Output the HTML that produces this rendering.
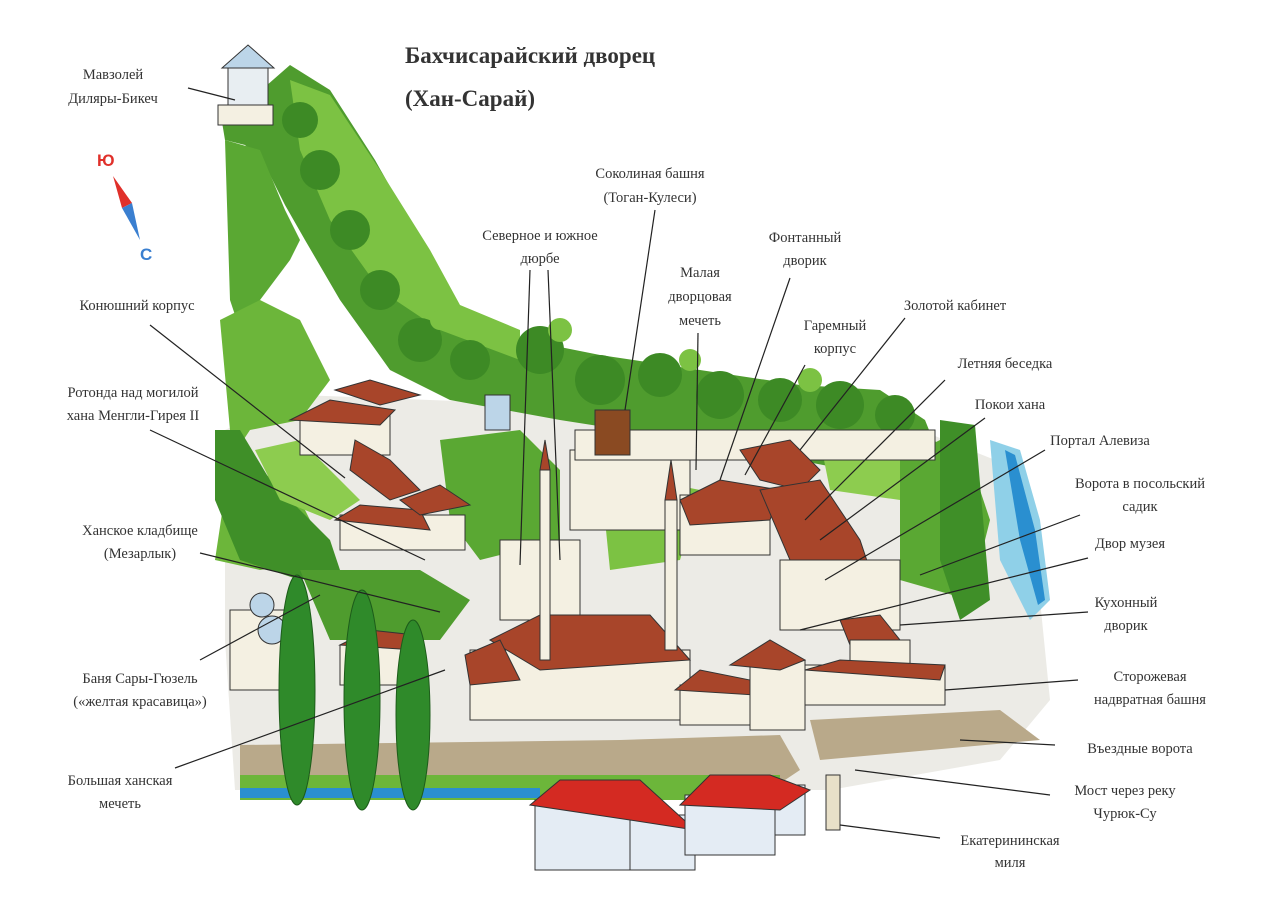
<!DOCTYPE html>
<html><head><meta charset="utf-8"><style>
html,body{margin:0;padding:0;background:#fff}
svg{display:block}
text{font-family:"Liberation Serif",serif;fill:#333}
</style></head><body>
<svg width="1272" height="904" viewBox="0 0 1272 904" xmlns="http://www.w3.org/2000/svg">
<rect width="1272" height="904" fill="#fff"/>
<!-- ground -->
<polygon points="225,430 300,395 560,405 920,430 1020,470 1040,600 1050,700 1000,760 830,790 720,790 235,790 225,640" fill="#ecebe6"/>
<!-- hill green -->
<polygon points="220,110 250,100 290,65 330,90 375,160 420,240 445,300 500,335 600,355 700,370 800,385 880,390 925,420 945,470 900,480 720,445 560,420 450,400 390,370 340,300 305,240 285,205 265,165 245,145 225,140" fill="#4f9c2e"/>
<polygon points="290,80 330,95 380,170 430,250 460,305 520,330 520,360 440,330 380,290 330,220 300,150" fill="#7cc243"/>
<g fill="#3d8a25">
<circle cx="420" cy="340" r="22"/><circle cx="470" cy="360" r="20"/><circle cx="540" cy="350" r="24"/><circle cx="600" cy="380" r="25"/><circle cx="660" cy="375" r="22"/><circle cx="720" cy="395" r="24"/><circle cx="780" cy="400" r="22"/><circle cx="840" cy="405" r="24"/><circle cx="895" cy="415" r="20"/>
<circle cx="300" cy="120" r="18"/><circle cx="320" cy="170" r="20"/><circle cx="350" cy="230" r="20"/><circle cx="380" cy="290" r="20"/>
</g>
<g fill="#7cc243">
<circle cx="440" cy="320" r="10"/><circle cx="560" cy="330" r="12"/><circle cx="690" cy="360" r="11"/><circle cx="810" cy="380" r="12"/>
</g>
<polygon points="225,140 260,150 285,210 300,240 290,260 260,300 240,330 230,300" fill="#5aa833"/>
<polygon points="220,320 260,300 300,320 330,380 300,420 250,430 230,460 215,560 260,570 330,560 300,500 260,470 230,430" fill="#6cb63a"/>
<polygon points="215,430 240,430 270,480 330,540 340,570 300,580 240,560 215,500" fill="#3f8f28"/>
<polygon points="255,450 300,440 360,500 330,520 280,500" fill="#8dcc4f"/>
<polygon points="440,440 520,430 560,470 560,540 480,560 450,520" fill="#5aa833"/>
<polygon points="600,470 700,490 680,560 610,570" fill="#7cc243"/>
<polygon points="820,440 930,430 950,470 900,500 830,490" fill="#8dcc4f"/>
<polygon points="900,460 960,430 990,520 970,600 900,580" fill="#5aa833"/>
<polygon points="940,420 975,425 990,600 960,620 940,560" fill="#3f8f28"/>
<polygon points="990,440 1020,450 1040,520 1050,600 1030,620 1000,560" fill="#8fd0e8"/>
<polygon points="1005,450 1015,455 1035,530 1045,600 1038,605 1020,540" fill="#2a8fd0"/>
<polygon points="300,570 420,570 470,600 440,640 330,640" fill="#4f9c2e"/>
<!-- wall and river at bottom -->
<polygon points="240,745 620,740 780,735 800,770 770,790 240,790" fill="#b9a98a"/>
<rect x="240" y="775" width="540" height="25" fill="#6cb63a"/>
<rect x="240" y="788" width="300" height="10" fill="#2a8fd0"/>
<polygon points="810,720 1000,710 1040,740 820,760" fill="#b9a98a"/>
<!-- buildings -->
<g stroke="#333" stroke-width="1">
<rect x="300" y="415" width="90" height="40" fill="#f4f0e2"/><polygon points="290,420 330,400 395,410 380,425" fill="#a8452a"/>
<polygon points="335,390 370,380 420,395 380,405" fill="#a8452a"/>
<rect x="340" y="515" width="125" height="35" fill="#f4f0e2"/><polygon points="335,520 360,505 420,510 430,530" fill="#a8452a"/>
<polygon points="400,500 440,485 470,505 420,515" fill="#a8452a"/>
<polygon points="355,440 390,460 420,490 390,500 350,470" fill="#a8452a"/>
<rect x="570" y="450" width="120" height="80" fill="#f4f0e2"/>
<rect x="575" y="430" width="360" height="30" fill="#f4f0e2"/>
<rect x="595" y="410" width="35" height="45" fill="#8a4a22"/>
<rect x="680" y="495" width="90" height="60" fill="#f4f0e2"/><polygon points="680,500 720,480 780,490 770,520 690,525" fill="#a8452a"/>
<polygon points="740,450 790,440 820,470 800,490 760,480" fill="#a8452a"/>
<polygon points="760,490 820,480 860,540 880,600 830,610 790,560" fill="#a8452a"/>
<rect x="780" y="560" width="120" height="70" fill="#f4f0e2"/>
<polygon points="840,620 880,615 900,640 850,645" fill="#a8452a"/>
<rect x="850" y="640" width="60" height="40" fill="#f4f0e2"/>
<rect x="500" y="540" width="80" height="80" fill="#f4f0e2"/>
<rect x="470" y="650" width="220" height="70" fill="#f4f0e2"/>
<polygon points="490,640 540,615 650,615 690,660 540,670" fill="#a8452a"/>
<polygon points="465,655 500,640 520,680 470,685" fill="#a8452a"/>
<rect x="680" y="685" width="70" height="40" fill="#f4f0e2"/><polygon points="675,690 700,670 750,680 755,695" fill="#a8452a"/>
<rect x="750" y="660" width="55" height="70" fill="#f4f0e2"/><polygon points="730,665 770,640 805,660 780,670" fill="#a8452a"/>
<rect x="805" y="665" width="140" height="40" fill="#f4f0e2"/><polygon points="805,670 840,660 945,665 940,680" fill="#a8452a"/>
<rect x="340" y="645" width="75" height="40" fill="#f4f0e2"/><polygon points="340,645 370,630 415,635 415,650" fill="#a8452a"/>
<rect x="230" y="610" width="80" height="80" fill="#f4f0e2"/>
<circle cx="262" cy="605" r="12" fill="#bcd5e8"/><circle cx="272" cy="630" r="14" fill="#bcd5e8"/>
<rect x="540" y="470" width="10" height="190" fill="#f4f0e2"/><polygon points="540,470 545,440 550,470" fill="#a8452a"/>
<rect x="665" y="500" width="12" height="150" fill="#f4f0e2"/><polygon points="665,500 671,460 677,500" fill="#a8452a"/>
<rect x="218" y="105" width="55" height="20" fill="#f4f0e2"/>
<rect x="228" y="65" width="40" height="40" fill="#e8eef2"/><polygon points="222,68 248,45 274,68" fill="#bcd5e8"/>
<rect x="485" y="395" width="25" height="35" fill="#bcd5e8"/>
<!-- bottom houses -->
<rect x="535" y="800" width="95" height="70" fill="#e4ecf4"/><rect x="630" y="815" width="65" height="55" fill="#e4ecf4"/>
<polygon points="530,805 560,780 640,780 695,830 630,820" fill="#d42a22"/>
<rect x="685" y="795" width="90" height="60" fill="#e4ecf4"/><rect x="775" y="785" width="30" height="50" fill="#e4ecf4"/>
<polygon points="680,805 710,775 770,775 810,790 780,810" fill="#d42a22"/>
<rect x="826" y="775" width="14" height="55" fill="#e8e0c8"/>
</g>
<!-- trees -->
<g fill="#2f8a2a" stroke="#1d5c1a">
<ellipse cx="297" cy="690" rx="18" ry="115"/><ellipse cx="362" cy="700" rx="18" ry="110"/><ellipse cx="413" cy="715" rx="17" ry="95"/>
</g>
<!-- title -->
<text x="405" y="63" font-size="23" font-weight="bold" fill="#333">Бахчисарайский дворец</text>
<text x="405" y="106" font-size="23" font-weight="bold" fill="#333">(Хан-Сарай)</text>
<!-- compass -->
<text x="97" y="166" font-size="17" font-weight="bold" style="font-family:'Liberation Sans',sans-serif;fill:#e0302a">Ю</text>
<text x="140" y="260" font-size="17" font-weight="bold" style="font-family:'Liberation Sans',sans-serif;fill:#3a7fd0">С</text>
<polygon points="113,176 132,203 122,208" fill="#e0302a"/><polygon points="122,208 132,203 140,240" fill="#3a7fd0"/>
<!-- leader lines -->
<g stroke="#222" stroke-width="1.2" fill="none">
<line x1="188" y1="88" x2="235" y2="100"/>
<line x1="150" y1="325" x2="345" y2="478"/>
<line x1="150" y1="430" x2="425" y2="560"/>
<line x1="200" y1="553" x2="440" y2="612"/>
<line x1="200" y1="660" x2="320" y2="595"/>
<line x1="175" y1="768" x2="445" y2="670"/>
<line x1="655" y1="210" x2="625" y2="410"/>
<line x1="530" y1="270" x2="520" y2="565"/>
<line x1="548" y1="270" x2="560" y2="560"/>
<line x1="698" y1="333" x2="696" y2="470"/>
<line x1="790" y1="278" x2="720" y2="480"/>
<line x1="805" y1="365" x2="745" y2="475"/>
<line x1="905" y1="318" x2="800" y2="450"/>
<line x1="945" y1="380" x2="805" y2="520"/>
<line x1="985" y1="418" x2="820" y2="540"/>
<line x1="1045" y1="450" x2="825" y2="580"/>
<line x1="1080" y1="515" x2="920" y2="575"/>
<line x1="1088" y1="558" x2="800" y2="630"/>
<line x1="1088" y1="612" x2="900" y2="625"/>
<line x1="1078" y1="680" x2="945" y2="690"/>
<line x1="1055" y1="745" x2="960" y2="740"/>
<line x1="1050" y1="795" x2="855" y2="770"/>
<line x1="940" y1="838" x2="840" y2="825"/>
</g>
<g font-size="14.5" text-anchor="middle">
<text x="113" y="79">Мавзолей</text><text x="113" y="103">Диляры-Бикеч</text>
<text x="137" y="310">Конюшний корпус</text>
<text x="133" y="397">Ротонда над могилой</text><text x="133" y="420">хана Менгли-Гирея II</text>
<text x="140" y="535">Ханское кладбище</text><text x="140" y="558">(Мезарлык)</text>
<text x="140" y="683">Баня Сары-Гюзель</text><text x="140" y="706">(«желтая красавица»)</text>
<text x="120" y="785">Большая ханская</text><text x="120" y="808">мечеть</text>
<text x="650" y="178">Соколиная башня</text><text x="650" y="202">(Тоган-Кулеси)</text>
<text x="540" y="240">Северное и южное</text><text x="540" y="263">дюрбе</text>
<text x="700" y="277">Малая</text><text x="700" y="301">дворцовая</text><text x="700" y="325">мечеть</text>
<text x="805" y="242">Фонтанный</text><text x="805" y="265">дворик</text>
<text x="835" y="330">Гаремный</text><text x="835" y="353">корпус</text>
<text x="955" y="310">Золотой кабинет</text>
<text x="1005" y="368">Летняя беседка</text>
<text x="1010" y="409">Покои хана</text>
<text x="1100" y="445">Портал Алевиза</text>
<text x="1140" y="488">Ворота в посольский</text><text x="1140" y="511">садик</text>
<text x="1130" y="548">Двор музея</text>
<text x="1126" y="607">Кухонный</text><text x="1126" y="630">дворик</text>
<text x="1150" y="681">Сторожевая</text><text x="1150" y="704">надвратная башня</text>
<text x="1140" y="753">Въездные ворота</text>
<text x="1125" y="795">Мост через реку</text><text x="1125" y="818">Чурюк-Су</text>
<text x="1010" y="845">Екатерининская</text><text x="1010" y="867">миля</text>
</g>
</svg>
</body></html>
